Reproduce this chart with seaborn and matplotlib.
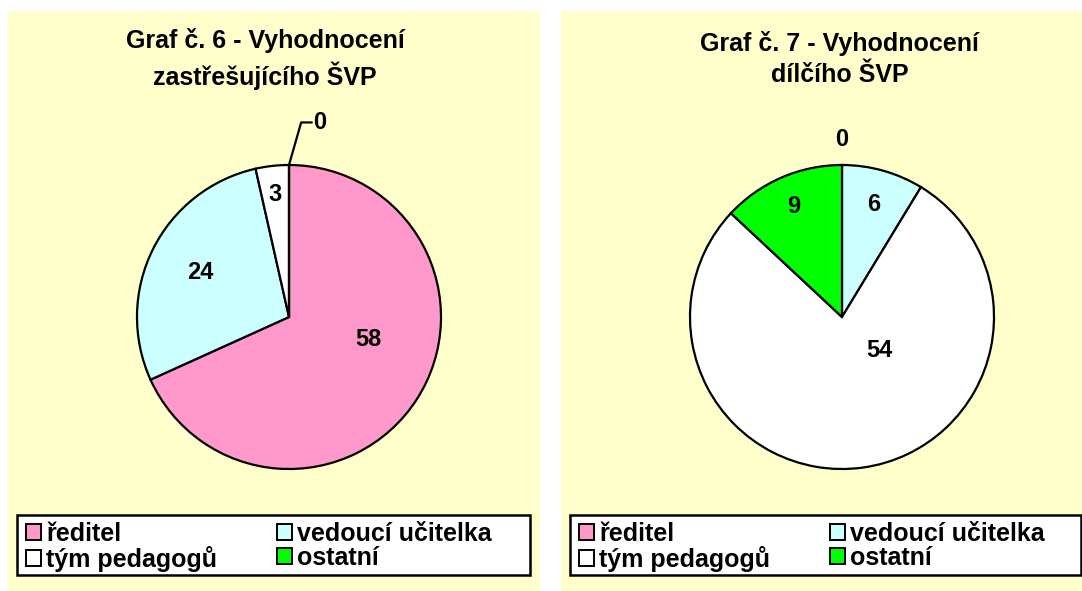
import numpy as np
import matplotlib
matplotlib.use("Agg")
import matplotlib.pyplot as plt
import seaborn as sns
from matplotlib.patches import Rectangle, Patch

categories = ["ředitel", "vedoucí učitelka", "tým pedagogů", "ostatní"]
values_6 = [58, 24, 3, 0]
values_7 = [0, 6, 54, 9]
titles = ["Graf č. 6 - Vyhodnocení\nzastřešujícího ŠVP",
          "Graf č. 7 - Vyhodnocení\ndílčího ŠVP"]
colors = ["#FF99CC", "#CCFFFF", "#FFFFFF", "#00FF00"]
BG = "#FFFFCC"

sns.set_theme(style="white")
plt.rcParams['font.family'] = ['Liberation Sans', 'DejaVu Sans']
plt.rcParams['font.weight'] = 'bold'
plt.rcParams['text.color'] = 'black'

W, H = 1082, 591
fig = plt.figure(figsize=(W / 100, H / 100), dpi=100)
fig.patch.set_facecolor("white")

def fx(x):
    return x / W

def fy(y):
    return 1 - y / H

panels = [
    dict(x0=8, x1=540, cx=289, cy=317, tx=265, legend=(17, 515, 530, 575),
         vals=values_6, title=titles[0],
         label_r=[0.54, 0.65, 0.81, None], label_da=[17, 0, 0, 0]),
    dict(x0=561, x1=1082, cx=842, cy=317, tx=840, legend=(570, 515, 1081, 575),
         vals=values_7, title=titles[1],
         label_r=[None, 0.77, 0.33, 0.79], label_da=[0, 0, 41, 0]),
]
R = 152

for idx, p in enumerate(panels):
    fig.patches.append(Rectangle((fx(p["x0"]), fy(591)), fx(p["x1"] - p["x0"]), 580 / H,
                                 transform=fig.transFigure, facecolor=BG,
                                 edgecolor="none", zorder=-10))
    fig.text(fx(p["tx"]), fy(59), p["title"], ha="center", va="center",
             fontsize=18, fontweight="bold", linespacing=1.4, color="black")

    ax = fig.add_axes([fx(p["cx"] - R), fy(p["cy"] + R), fx(2 * R), 2 * R / H])
    ax.set_facecolor("none")
    vals = p["vals"]
    wedges, _ = ax.pie(vals, colors=colors, startangle=90, counterclock=False,
                       radius=1.0,
                       wedgeprops=dict(edgecolor="black", linewidth=1.6))
    ax.set_xlim(-1, 1)
    ax.set_ylim(-1, 1)
    ax.set_aspect("equal")
    ax.axis("off")

    total = sum(vals)
    start = 90.0
    for i, v in enumerate(vals):
        span = 360.0 * v / total
        mid = np.deg2rad(start - span / 2 + p["label_da"][i])
        if v == 0:
            if idx == 0:
                ex, ey = np.cos(mid), np.sin(mid)
                ax.plot([ex, ex + 0.08, ex + 0.15], [ey, ey + 0.28, ey + 0.28],
                        color="black", lw=1.6, clip_on=False)
                ax.text(ex + 0.2, ey + 0.28, "0", ha="center", va="center",
                        fontsize=17, fontweight="bold", clip_on=False)
            else:
                ax.text(np.cos(mid) * 1.17, np.sin(mid) * 1.17, "0",
                        ha="center", va="center", fontsize=17,
                        fontweight="bold", clip_on=False)
        else:
            r = p["label_r"][i]
            ax.text(np.cos(mid) * r, np.sin(mid) * r, str(v), ha="center",
                    va="center", fontsize=17, fontweight="bold")
        start -= span

    lx0, ly0, lx1, ly1 = p["legend"]
    fig.patches.append(Rectangle((fx(lx0), fy(ly1)), fx(lx1 - lx0), (ly1 - ly0) / H,
                                 transform=fig.transFigure, facecolor="white",
                                 edgecolor="black", linewidth=1.8, zorder=1))
    order = [0, 2, 1, 3]
    handles = [Patch(facecolor=colors[k], edgecolor="black", linewidth=1.4) for k in order]
    labels = [categories[k] for k in order]
    leg = fig.legend(handles, labels, ncol=2, loc="upper left",
                     bbox_to_anchor=(fx(lx0 + 9), fy(ly0 + 7)),
                     bbox_transform=fig.transFigure,
                     frameon=False, handlelength=0.6,
                     handleheight=0.6, handletextpad=0.2, labelspacing=0.0,
                     borderpad=0.0, borderaxespad=0, columnspacing=2.4,
                     prop=dict(weight="bold", size=18))
    leg.set_zorder(2)

fig.savefig("out.png", dpi=100, facecolor="white")
